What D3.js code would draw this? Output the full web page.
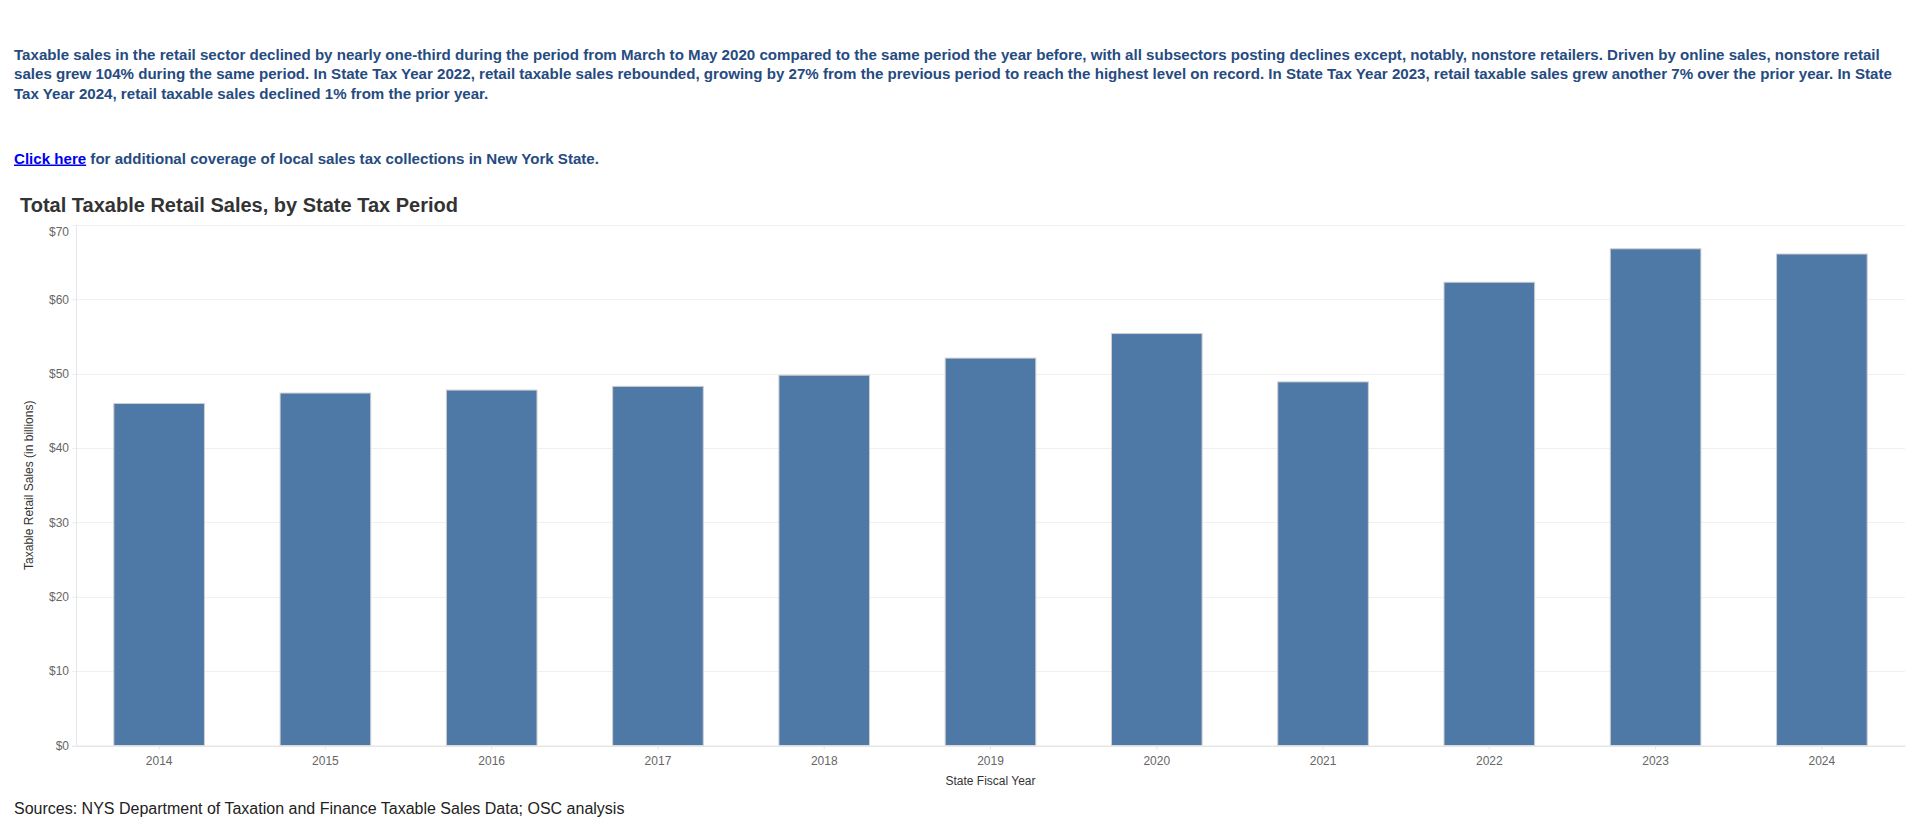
<!DOCTYPE html>
<html>
<head>
<meta charset="utf-8">
<script src="https://cdn.jsdelivr.net/npm/d3@7"></script>
<style>
  html, body { margin: 0; padding: 0; background: #fff; }
  svg { display: block; font-family: "Liberation Sans", Arial, sans-serif; }
</style>
</head>
<body>
<svg id="chart" width="1920" height="831"></svg>
<script>
// ---- data ----
const years = ["2014", "2015", "2016", "2017", "2018", "2019", "2020", "2021", "2022", "2023", "2024"];
const sales = [46.0, 47.4, 47.8, 48.3, 49.8, 52.1, 55.4, 48.9, 62.3, 66.8, 66.1];
const yTicks = [0, 10, 20, 30, 40, 50, 60, 70];
const introLines = [
  "Taxable sales in the retail sector declined by nearly one-third during the period from March to May 2020 compared to the same period the year before, with all subsectors posting declines except, notably, nonstore retailers. Driven by online sales, nonstore retail",
  "sales grew 104% during the same period. In State Tax Year 2022, retail taxable sales rebounded, growing by 27% from the previous period to reach the highest level on record. In State Tax Year 2023, retail taxable sales grew another 7% over the prior year. In State",
  "Tax Year 2024, retail taxable sales declined 1% from the prior year."
];
const linkText = "Click here";
const linkRest = " for additional coverage of local sales tax collections in New York State.";
const chartTitle = "Total Taxable Retail Sales, by State Tax Period";
const yTitle = "Taxable Retail Sales (in billions)";
const xTitle = "State Fiscal Year";
const sourceText = "Sources: NYS Department of Taxation and Finance Taxable Sales Data; OSC analysis";

const data = years.map((yr, i) => ({ year: yr, value: sales[i] }));

// ---- layout ----
const svg = d3.select("#chart");
const plotLeft = 76, plotRight = 1905, plotTop = 225, plotBottom = 745.5;

const x = d3.scaleBand().domain(years).range([plotLeft, plotRight])
  .paddingInner(0.455).paddingOuter(0.2275);
const y = d3.scaleLinear().domain([0, 70]).range([plotBottom, plotTop]);

// intro paragraph
const intro = svg.append("g").attr("font-weight", "bold").attr("font-size", "15.1px").attr("fill", "#264b80");
intro.selectAll("text").data(introLines).join("text")
  .attr("x", 14)
  .attr("y", (d, i) => 59.5 + i * 19.5)
  .text(d => d);

const link = svg.append("text").attr("x", 14).attr("y", 163.5)
  .attr("font-weight", "bold").attr("font-size", "15.1px");
link.append("tspan").attr("fill", "#0000ee").attr("text-decoration", "underline").text(linkText);
link.append("tspan").attr("fill", "#264b80").text(linkRest);

// chart title
svg.append("text").attr("x", 20).attr("y", 211.5)
  .attr("font-size", "20px").attr("font-weight", "bold").attr("fill", "#333")
  .text(chartTitle);

// gridlines
svg.append("g").selectAll("line").data(yTicks).join("line")
  .attr("x1", plotLeft - 4).attr("x2", plotRight)
  .attr("y1", d => Math.round(y(d)) + 0.5).attr("y2", d => Math.round(y(d)) + 0.5)
  .attr("stroke", d => d === 0 ? "#e6e6e6" : "#f0f0f0").attr("stroke-width", 1);

// y axis line
svg.append("line")
  .attr("x1", plotLeft + 0.5).attr("x2", plotLeft + 0.5)
  .attr("y1", plotTop).attr("y2", plotBottom)
  .attr("stroke", "#e6e6e6");

// y axis labels
const yAxis = svg.append("g").attr("transform", `translate(${plotLeft},0)`)
  .call(d3.axisLeft(y).tickValues(yTicks).tickFormat(d => "$" + d).tickSize(4).tickPadding(3));
yAxis.select(".domain").remove();
yAxis.selectAll(".tick line").attr("stroke", "#f0f0f0");
yAxis.selectAll(".tick text")
  .attr("font-family", "'Liberation Sans', Arial, sans-serif")
  .attr("font-size", "12px").attr("fill", "#666")
  .attr("y", d => d === 70 ? 7 : 0);

// bars
svg.append("g").selectAll("rect").data(data).join("rect")
  .attr("x", d => x(d.year))
  .attr("width", x.bandwidth())
  .attr("y", d => y(d.value))
  .attr("height", d => y(0) - y(d.value))
  .attr("fill", "#4e79a7")
  .attr("stroke", "#cfcfcf").attr("stroke-width", 1);

// x axis
const xAxis = svg.append("g").attr("transform", `translate(0,${plotBottom})`)
  .call(d3.axisBottom(x).tickSize(4).tickSizeOuter(0).tickPadding(7));
xAxis.select(".domain").attr("stroke", "#e6e6e6");
xAxis.selectAll(".tick line").attr("stroke", "#e6e6e6");
xAxis.selectAll(".tick text")
  .attr("font-family", "'Liberation Sans', Arial, sans-serif")
  .attr("font-size", "12px").attr("fill", "#666");

// axis titles
svg.append("text")
  .attr("x", (plotLeft + plotRight) / 2).attr("y", 785)
  .attr("text-anchor", "middle").attr("font-size", "12px").attr("fill", "#333")
  .text(xTitle);

svg.append("text")
  .attr("transform", `translate(33,${(plotTop + plotBottom) / 2}) rotate(-90)`)
  .attr("text-anchor", "middle").attr("font-size", "12px").attr("fill", "#333")
  .text(yTitle);

// source
svg.append("text").attr("x", 14).attr("y", 814)
  .attr("font-size", "16px").attr("fill", "#222")
  .text(sourceText);
</script>
</body>
</html>
